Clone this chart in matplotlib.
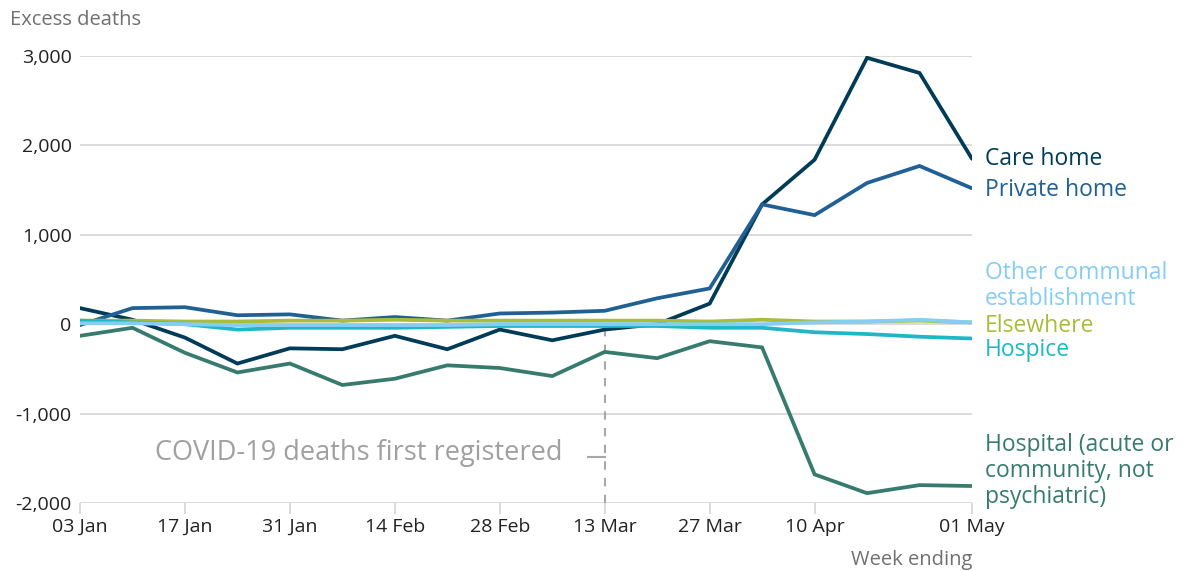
import numpy as np
import matplotlib
matplotlib.use("Agg")
import matplotlib.pyplot as plt

plt.rcParams["font.family"] = ["Open Sans", "DejaVu Sans"]

# weekly excess deaths by place of occurrence, weeks ending 03 Jan - 01 May 2020
weeks = ["03 Jan", "10 Jan", "17 Jan", "24 Jan", "31 Jan", "07 Feb", "14 Feb", "21 Feb", "28 Feb",
         "06 Mar", "13 Mar", "20 Mar", "27 Mar", "03 Apr", "10 Apr", "17 Apr", "24 Apr", "01 May"]
care_home = [180, 50, -150, -440, -270, -280, -130, -280, -60, -180, -60, 0, 230, 1340, 1840, 2980, 2810, 1850]
private_home = [-10, 180, 190, 100, 110, 40, 80, 40, 120, 130, 150, 290, 400, 1340, 1220, 1580, 1770, 1520]
hospital = [-130, -40, -320, -540, -440, -680, -610, -460, -490, -580, -310, -380, -190, -260, -1680, -1890, -1800, -1810]
elsewhere = [40, 40, 30, 30, 40, 40, 50, 40, 40, 40, 40, 40, 30, 50, 30, 30, 40, 20]
other_communal = [10, 10, 0, -10, -10, -10, -10, -10, 0, 0, 0, 0, 0, 0, 20, 30, 50, 20]
hospice = [40, 20, 0, -60, -40, -40, -40, -30, -20, -20, -20, -20, -40, -40, -90, -110, -140, -160]

tick_weeks = ["03 Jan", "17 Jan", "31 Jan", "14 Feb", "28 Feb", "13 Mar", "27 Mar", "10 Apr", "01 May"]
y_ticks = [-2000, -1000, 0, 1000, 2000, 3000]
event_week = "13 Mar"

NIGHT, OCEAN, GREEN = "#003c57", "#206095", "#367b6d"
OLIVE, SKY, TURQ = "#a8bd3a", "#86cdf4", "#1eb7c5"

series = [  # (values, colour, label, label y in data units)
    (hospital, GREEN, "Hospital (acute or\ncommunity, not\npsychiatric)", -1640),
    (care_home, NIGHT, "Care home", 1850),
    (private_home, OCEAN, "Private home", 1500),
    (elsewhere, OLIVE, "Elsewhere", -20),
    (hospice, TURQ, "Hospice", -290),
    (other_communal, SKY, "Other communal\nestablishment", 430),
]

fig = plt.figure(figsize=(11.86, 5.71), dpi=100)
ax = fig.add_axes([80 / 1186, 1 - 503 / 571, 892 / 1186, 447 / 571])
x = np.arange(len(weeks))

for vals, col, lab, ly in series:
    ax.plot(x, vals, color=col, lw=2.7, solid_joinstyle="miter", solid_capstyle="round", zorder=3)
    ax.text(len(weeks) - 1 + 0.25, ly, lab, color=col, fontsize=16.5, va="center", ha="left",
            linespacing=1.12, clip_on=False)

ev = weeks.index(event_week)
ax.plot([ev, ev], [-2000, -60], color="#a8a8a8", lw=1.5, ls=(0, (4, 4)), zorder=2)
ax.plot([ev - 0.32, ev], [-1490, -1490], color="#a8a8a8", lw=1.5, zorder=2)
ax.text(ev - 0.8, -1440, "COVID-19 deaths first registered", color="#a0a0a0", fontsize=19.5,
        ha="right", va="center")

ax.set_xlim(0, len(weeks) - 1)
ax.set_ylim(-2000, 3000)
ax.set_yticks(y_ticks)
ax.set_yticklabels([f"{v:,}" for v in y_ticks])
ax.set_xticks([weeks.index(w) for w in tick_weeks])
ax.set_xticklabels(tick_weeks)
ax.grid(axis="y", color="#d4d4d4", lw=1.2)
ax.set_axisbelow(True)
for s in ax.spines.values():
    s.set_visible(False)
ax.tick_params(axis="y", length=0, pad=6, labelsize=14, labelcolor="#222222")
ax.tick_params(axis="x", length=8, width=1.2, color="#d4d4d4", pad=3, labelsize=14, labelcolor="#222222")

fig.text(10 / 1186, 1 - 20 / 571, "Excess deaths", color="#707070", fontsize=14.5, va="center")
fig.text(972 / 1186, 1 - 560 / 571, "Week ending", color="#707070", fontsize=14.5, va="center", ha="right")

fig.savefig("out.png", dpi=100, facecolor="white")
